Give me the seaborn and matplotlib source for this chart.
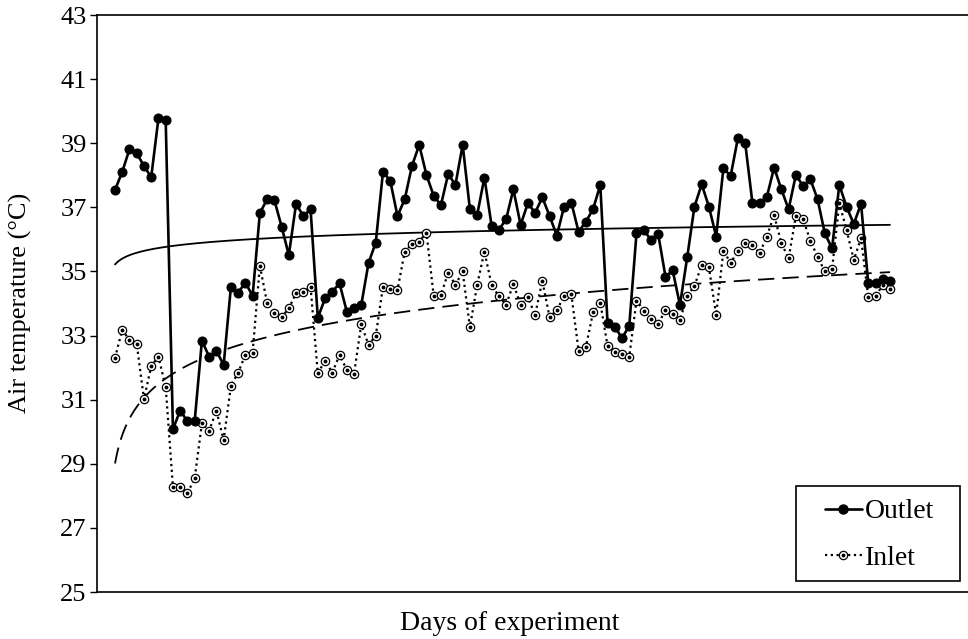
import numpy as np
import pandas as pd
import matplotlib
matplotlib.use("Agg")
import matplotlib.pyplot as plt
from matplotlib.legend_handler import HandlerTuple
from matplotlib.lines import Line2D
from matplotlib.patches import Rectangle
import seaborn as sns

outlet = [37.54, 38.11, 38.81, 38.69, 38.29, 37.94, 39.78, 39.71, 30.08, 30.66,
          30.33, 30.33, 32.84, 32.34, 32.53, 32.08, 34.51, 34.34, 34.65, 34.24,
          36.82, 37.25, 37.23, 36.40, 35.51, 37.11, 36.73, 36.94, 33.55, 34.16,
          34.37, 34.63, 33.75, 33.85, 33.95, 35.26, 35.90, 38.11, 37.83, 36.73,
          37.25, 38.29, 38.95, 38.01, 37.36, 37.07, 38.04, 37.70, 38.95, 36.94,
          36.76, 37.93, 36.42, 36.30, 36.63, 37.56, 36.45, 37.13, 36.83, 37.31,
          36.73, 36.12, 37.02, 37.15, 36.24, 36.55, 36.94, 37.70, 33.40, 33.28,
          32.92, 33.30, 36.19, 36.30, 35.98, 36.16, 34.84, 35.03, 33.95, 35.44,
          37.02, 37.72, 37.02, 36.09, 38.22, 37.98, 39.16, 39.02, 37.15, 37.13,
          37.33, 38.24, 37.56, 36.94, 38.01, 37.67, 37.88, 37.25, 36.19, 35.72,
          37.70, 37.02, 36.48, 37.11, 34.63, 34.65, 34.75, 34.70]

inlet = [32.30, 33.18, 32.86, 32.74, 31.01, 32.05, 32.34, 31.39, 28.27, 28.27,
         28.08, 28.55, 30.26, 30.03, 30.66, 29.74, 31.43, 31.84, 32.40, 32.47,
         35.18, 34.01, 33.70, 33.57, 33.85, 34.32, 34.35, 34.53, 31.82, 32.22,
         31.84, 32.40, 31.93, 31.80, 33.35, 32.71, 32.99, 34.53, 34.44, 34.42,
         35.62, 35.86, 35.93, 36.21, 34.24, 34.27, 34.96, 34.58, 35.00, 33.26,
         34.58, 35.62, 34.58, 34.22, 33.96, 34.61, 33.96, 34.20, 33.64, 34.71,
         33.57, 33.80, 34.22, 34.30, 32.53, 32.63, 33.72, 34.03, 32.68, 32.50,
         32.43, 32.34, 34.09, 33.78, 33.51, 33.36, 33.80, 33.68, 33.49, 34.22,
         34.55, 35.20, 35.13, 33.64, 35.65, 35.26, 35.65, 35.88, 35.83, 35.57,
         36.09, 36.76, 35.88, 35.41, 36.73, 36.63, 35.96, 35.46, 35.00, 35.07,
         37.13, 36.30, 35.36, 36.04, 34.20, 34.22, 34.58, 34.44]

days = list(range(1, len(outlet) + 1))
y_ticks = [25, 27, 29, 31, 33, 35, 37, 39, 41, 43]
series_names = ["Outlet", "Inlet"]

df = pd.DataFrame({"day": days, "Outlet": outlet, "Inlet": inlet})

sns.set_theme(style="white")
plt.rcParams["font.family"] = ["Liberation Serif", "DejaVu Serif"]
plt.rcParams["text.color"] = "black"
plt.rcParams["axes.labelcolor"] = "black"
plt.rcParams["ytick.color"] = "black"

FS = 19
W, H = 968, 639

fig = plt.figure(figsize=(9.68, 6.39), dpi=100)
ax = fig.add_axes([97 / W, 47 / H, 871 / W, 577 / H])

# logarithmic trend lines fitted to the data
xf = np.linspace(1, len(days), 400)
co_out = np.polyfit(np.log(days), outlet, 1)
co_in = np.polyfit(np.log(days), inlet, 1)
ax.plot(xf, co_out[0] * np.log(xf) + co_out[1], color="black", lw=1.3, zorder=2)
ax.plot(xf, co_in[0] * np.log(xf) + co_in[1], color="black", lw=1.3,
        dashes=(9, 4.5), zorder=2)

sns.lineplot(data=df, x="day", y="Outlet", ax=ax, color="black", lw=1.9,
             marker="o", markersize=6.5, markerfacecolor="black",
             markeredgecolor="black", zorder=4)
sns.lineplot(data=df, x="day", y="Inlet", ax=ax, color="black", lw=1.6,
             linestyle=(0, (1, 1.6)), marker="o", markersize=6,
             markerfacecolor="white", markeredgecolor="black",
             markeredgewidth=0.9, zorder=3)
ax.plot(df["day"], df["Inlet"], linestyle="none", marker="o", markersize=1.8,
        color="black", zorder=3.5)

ax.set_xlim(1 - 18 / 7.243, 1 + (968 - 115) / 7.243)
ax.set_ylim(25, 43)
ax.set_yticks(y_ticks)
ax.set_yticklabels([str(t) for t in y_ticks], fontsize=FS, color="black")
ax.set_xticks([])
ax.tick_params(axis="y", direction="out", length=5, width=1, color="black",
               left=True, pad=2.5)
for s in ["left", "bottom", "top"]:
    ax.spines[s].set_visible(True)
    ax.spines[s].set_color("black")
    ax.spines[s].set_linewidth(1.2)
ax.spines["right"].set_visible(False)

ax.set_xlabel("")
ax.set_ylabel("")
fig.text(510 / W, 1 - 624 / H, "Days of experiment", fontsize=20,
         ha="center", va="center", color="black")
fig.text(20 / W, 1 - 303 / H, "Air temperature (°C)", fontsize=FS,
         ha="center", va="center", rotation=90, color="black")

# legend box
ax.add_patch(Rectangle((796 / W, 1 - 581 / H), (960 - 796) / W, (581 - 486) / H,
                       transform=fig.transFigure, facecolor="white",
                       edgecolor="black", lw=1.2, zorder=4.5, clip_on=False))

h_out = Line2D([], [], color="black", lw=1.9, marker="o", markersize=6.5)
h_in1 = Line2D([], [], color="black", lw=1.6, linestyle=(0, (1, 1.6)),
               marker="o", markersize=6, markerfacecolor="white",
               markeredgecolor="black", markeredgewidth=0.9)
h_in2 = Line2D([], [], color="black", linestyle="none", marker="o",
               markersize=1.8)
leg = ax.legend([h_out, (h_in1, h_in2)], series_names,
                handler_map={tuple: HandlerTuple(ndivide=1, pad=0)},
                loc="upper left", bbox_to_anchor=(825 / W, 1 - 499 / H),
                bbox_transform=fig.transFigure,
                borderaxespad=0, fontsize=20, handlelength=1.33,
                handletextpad=0.11, labelspacing=0.75, borderpad=0,
                frameon=False)
for t in leg.get_texts():
    t.set_color("black")

fig.savefig("out.png", dpi=100)
